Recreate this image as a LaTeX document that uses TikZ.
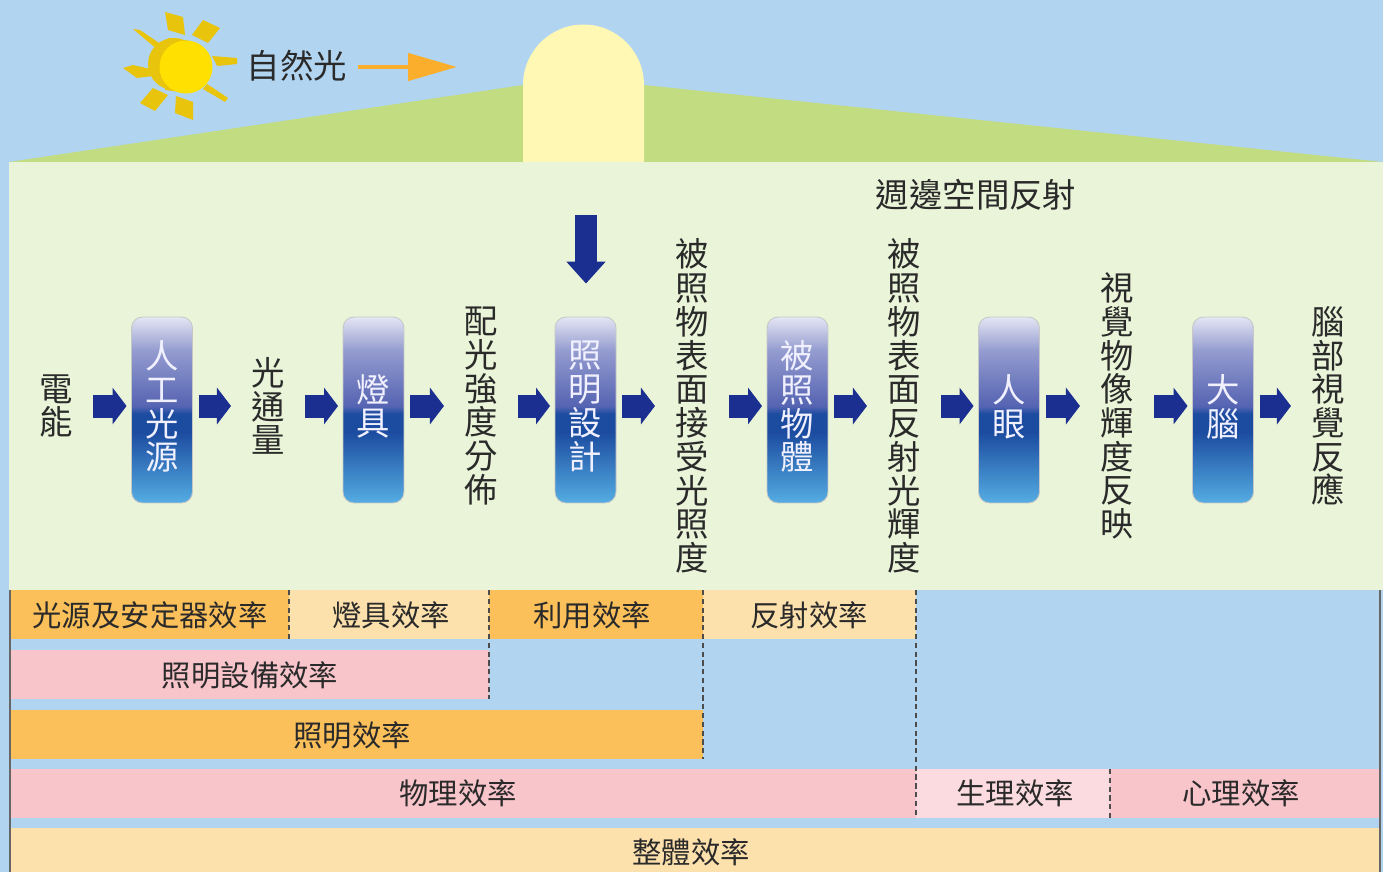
\documentclass[tikz,border=0pt]{standalone}
\usepackage{fontspec}
\usetikzlibrary{arrows.meta}
\newfontfamily\cjk{Noto Sans CJK TC}
\newcommand{\bigfont}{\cjk\fontsize{19}{19.2}\selectfont\lineskiplimit -10pt\relax}
\definecolor{sky}{HTML}{B1D4F0}
\definecolor{roof}{HTML}{C2DC82}
\definecolor{panel}{HTML}{EAF4D8}
\definecolor{dome}{HTML}{FFF7B4}
\definecolor{sunface}{HTML}{FFE000}
\definecolor{sunside}{HTML}{E9C40C}
\definecolor{orangebar}{HTML}{FBC05A}
\definecolor{creambar}{HTML}{FDE1AD}
\definecolor{pinkbar}{HTML}{F8C5CB}
\definecolor{palebar}{HTML}{FBDBE0}
\definecolor{navy}{HTML}{1B2F90}
\definecolor{ink}{HTML}{2A2A2A}
\definecolor{glow}{HTML}{FAAE2C}
\definecolor{glassa}{HTML}{55ADE3}
\definecolor{glassb}{HTML}{1C4CA0}
\definecolor{glassc}{HTML}{5564B2}
\definecolor{glassm}{HTML}{949CCF}
\definecolor{glassd}{HTML}{E4E6F4}
\pgfdeclareverticalshading{boxglass}{100bp}{color(0bp)=(glassa);
 color(25bp)=(glassa);
 color(44bp)=(glassb);
 color(49bp)=(glassb);
 color(51bp)=(glassc);
 color(66bp)=(glassm);
 color(75bp)=(glassd);
 color(100bp)=(glassd)}
\tikzset{
 bigtext/.style={font=\bigfont,text=ink,align=center,inner sep=0pt},
 bartext/.style={font=\cjk\fontsize{16.7}{18}\selectfont,text=ink,inner sep=0pt},
 boxtext/.style={bigtext,text=white!94!blue,yshift=.07cm},
 glassbox/.style={draw=black!22,line width=.5pt,rounded corners=.22cm,shading=boxglass,minimum width=1.22cm,minimum height=3.72cm,inner sep=0pt},
 flowin/.style={navy,line width=.46cm,-{Triangle[length=.28cm,width=.72cm]},shorten <=.4cm,shorten >=.09cm},
 flowout/.style={navy,line width=.46cm,-{Triangle[length=.28cm,width=.72cm]},shorten <=.12cm,shorten >=.4cm},
 sunray/.style={fill=sunside},
 divider/.style={black!70,line width=.6pt,densely dashed}
}
\begin{document}
\begin{tikzpicture}[x=.02cm,y=-.02cm]
\useasboundingbox (0,0) rectangle (1383,872);
\fill[sky] (0,0) rectangle (1383,872);
\fill[roof] (9,162) -- (523,85) -- (644,85) -- (1383,162) -- cycle;
\fill[dome] (523,162) -- (523,85) arc[start angle=180,end angle=360,radius=60.5] -- (644,162) -- cycle;
\fill[panel] (9,162) rectangle (1383,590);

\fill[sunray] (165,12) -- (183,17) -- (185,35) -- (168,30) -- cycle;
\fill[sunray] (203,20) -- (220,28) -- (208,43) -- (192,35) -- cycle;
\fill[sunray] (212,56) -- (237,58) -- (237,64) -- (217,66) -- cycle;
\fill[sunray] (207,84) -- (228,98) -- (225,102) -- (203,89) -- cycle;
\fill[sunray] (176,96) -- (193,102) -- (193,120) -- (175,113) -- cycle;
\fill[sunray] (153,88) -- (168,95) -- (155,111) -- (140,103) -- cycle;
\fill[sunray] (123,68) -- (133,65) -- (155,70) -- (153,76) -- (137,78) -- cycle;
\fill[sunray] (133,29) -- (140,30) -- (162,45) -- (158,50) -- cycle;
\fill[sunside] (174,64) circle[radius=26];
\fill[sunside] (168,38) -- (190,41) -- (190,93) -- (165,90) -- cycle;
\fill[sunface] (186,67) circle[radius=26.5];

\fill[orangebar] (10,590) rectangle (289,639);
\fill[creambar] (289,590) rectangle (489,639);
\fill[orangebar] (489,590) rectangle (703,639);
\fill[creambar] (703,590) rectangle (916,639);
\fill[pinkbar] (10,650) rectangle (489,699);
\fill[orangebar] (10,710) rectangle (703,759);
\fill[pinkbar] (10,769) rectangle (916,818);
\fill[palebar] (916,769) rectangle (1110,818);
\fill[pinkbar] (1110,769) rectangle (1380,818);
\fill[creambar] (10,828) rectangle (1380,872);
\draw[black!60,line width=.6pt] (10,590) -- (10,872);
\draw[black!60,line width=.6pt] (1380,590) -- (1380,872);
\draw[divider] (289,590) -- (289,639);
\draw[divider] (489,590) -- (489,699);
\draw[divider] (703,590) -- (703,759);
\draw[divider] (916,590) -- (916,818);
\draw[divider] (1110,769) -- (1110,818);

\node[bartext] (b1) at (150,615) {光源及安定器效率};
\node[bartext] (b2) at (391,615) {燈具效率};
\node[bartext] (b3) at (592,615) {利用效率};
\node[bartext] (b4) at (809,615) {反射效率};
\node[bartext] (b5) at (250,675) {照明設備效率};
\node[bartext] (b6) at (352,735) {照明效率};
\node[bartext] (b7) at (458,793) {物理效率};
\node[bartext] (b8) at (1015,793) {生理效率};
\node[bartext] (b9) at (1241,793) {心理效率};
\node[bartext] (b10) at (691,852) {整體效率};

\node[bigtext] (nat) at (297,66) {自然光};
\coordinate (nattip) at (457,67);
\draw[glow,line width=.09cm,-{Triangle[length=.98cm,width=.54cm]},shorten <=.22cm] (nat.east |- nattip) -- (nattip);
\node[bigtext] (refl) at (976,195) {週邊空間反射};

\node[bigtext] (t0) at (56,406) {電\\能};
\node[glassbox,label={[boxtext]center:{人\\工\\光\\源}}] (g1) at (162,410) {};
\node[bigtext] (t1) at (268,406) {光\\通\\量};
\node[glassbox,label={[boxtext]center:{燈\\具}}] (g2) at (373.5,410) {};
\node[bigtext] (t2) at (481,406) {配\\光\\強\\度\\分\\佈};
\node[glassbox,label={[boxtext]center:{照\\明\\設\\計}}] (g3) at (585.5,410) {};
\node[bigtext] (t3) at (692,406) {被\\照\\物\\表\\面\\接\\受\\光\\照\\度};
\node[glassbox,label={[boxtext]center:{被\\照\\物\\體}}] (g4) at (797.5,410) {};
\node[bigtext] (t4) at (904,406) {被\\照\\物\\表\\面\\反\\射\\光\\輝\\度};
\node[glassbox,label={[boxtext]center:{人\\眼}}] (g5) at (1009,410) {};
\node[bigtext] (t5) at (1117,406) {視\\覺\\物\\像\\輝\\度\\反\\映};
\node[glassbox,label={[boxtext]center:{大\\腦}}] (g6) at (1223,410) {};
\node[bigtext] (t6) at (1328,406) {腦\\部\\視\\覺\\反\\應};

\foreach \a/\b in {t0/g1,t1/g2,t2/g3,t3/g4,t4/g5,t5/g6}
  \draw[flowin] (\a.east) -- (\a -| \b.west);
\foreach \b/\a in {g1/t1,g2/t2,g3/t3,g4/t4,g5/t5,g6/t6}
  \draw[flowout] (\a -| \b.east) -- (\a.west);

\coordinate (dsgn) at (586,215);
\draw[navy,line width=.44cm,-{Triangle[length=.44cm,width=.76cm]},shorten >=.66cm] (dsgn) -- (dsgn |- g3.north);
\end{tikzpicture}
\end{document}
